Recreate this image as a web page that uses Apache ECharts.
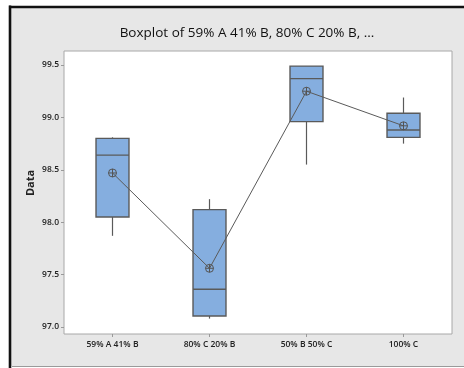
<!DOCTYPE html>
<html>
<head>
<meta charset="utf-8">
<script src="https://cdn.jsdelivr.net/npm/echarts@6/dist/echarts.min.js"></script>
<style>html,body{margin:0;padding:0;background:#fff;}#c{width:464px;height:368px;}</style>
</head>
<body>
<div id="c"></div>
<script>
const categories = ['59% A 41% B', '80% C 20% B', '50% B 50% C', '100% C'];
// [lower whisker, Q1, median, Q3, upper whisker]
const boxValues = [
  [97.87, 98.05, 98.64, 98.80, 98.81],
  [97.08, 97.105, 97.36, 98.12, 98.22],
  [98.55, 98.96, 99.37, 99.49, 99.49],
  [98.75, 98.81, 98.88, 99.04, 99.19]
];
const meanValues = [98.47, 97.56, 99.25, 98.92];
const yTicks = [97.0, 97.5, 98.0, 98.5, 99.0, 99.5];
const titleText = 'Boxplot of 59% A 41% B, 80% C 20% B, ...';
const yName = 'Data';

const FONT = 'Open Sans';
const chart = echarts.init(document.getElementById('c'), null, {renderer: 'canvas'});

const boxData = boxValues.map((v, i) => [i].concat(v));
const meanData = meanValues.map((v, i) => [i, v]);

chart.setOption({
  backgroundColor: '#ffffff',
  animation: false,
  graphic: [
    {type: 'rect', z: -10, silent: true,
     shape: {x: 10, y: 7, width: 470, height: 359},
     style: {fill: '#e7e7e7', stroke: null}},
    {type: 'line', z: -9, shape: {x1: 10, y1: 5.5, x2: 10, y2: 368}, style: {stroke: '#111', lineWidth: 2.6}},
    {type: 'line', z: -9, shape: {x1: 9, y1: 7, x2: 470, y2: 7}, style: {stroke: '#111', lineWidth: 2.6}},
    {type: 'line', z: -9, shape: {x1: 12, y1: 366.5, x2: 470, y2: 366.5}, style: {stroke: '#9a9a9a', lineWidth: 1}},
    {type: 'text', x: 247, y: 33, style: {text: titleText, fontFamily: FONT, fontSize: 13.5, fill: '#111', align: 'center', verticalAlign: 'middle'}},
    {type: 'text', x: 31, y: 183, rotation: Math.PI / 2, style: {text: yName, fontFamily: FONT, fontSize: 11, fontWeight: 'bold', fill: '#222', align: 'center', verticalAlign: 'middle'}}
  ],
  grid: {left: 64, top: 51, right: 12, bottom: 34, show: true, backgroundColor: '#fff', borderColor: '#a8a8a8', borderWidth: 1},
  xAxis: {
    type: 'category', data: categories, boundaryGap: true,
    axisLine: {show: false},
    axisTick: {show: true, alignWithLabel: true, length: 3, lineStyle: {color: '#999'}},
    axisLabel: {fontFamily: FONT, fontSize: 8.5, fontWeight: 600, color: '#222', margin: 6, interval: 0},
    splitLine: {show: false}
  },
  yAxis: {
    type: 'value', min: 96.933, max: 99.634,
    axisLine: {show: false},
    axisTick: {show: true, length: 3, lineStyle: {color: '#999'}, customValues: yTicks},
    axisLabel: {fontFamily: FONT, fontSize: 8.5, fontWeight: 600, color: '#222', margin: 5, customValues: yTicks,
      formatter: v => Number(v).toFixed(1)},
    splitLine: {show: false}
  },
  series: [
    {
      type: 'custom', z: 2,
      data: boxData,
      encode: {x: 0, y: [1, 2, 3, 4, 5]},
      renderItem: function (params, api) {
        const i = api.value(0);
        const lo = api.coord([i, api.value(1)]);
        const q1 = api.coord([i, api.value(2)]);
        const med = api.coord([i, api.value(3)]);
        const q3 = api.coord([i, api.value(4)]);
        const hi = api.coord([i, api.value(5)]);
        const bw = api.size([1, 0])[0] * 0.34;
        const cx = lo[0];
        const lineStyle = {stroke: '#5a5a5a', lineWidth: 1.2};
        return {
          type: 'group',
          children: [
            {type: 'line', shape: {x1: cx, y1: hi[1], x2: cx, y2: q3[1]}, style: lineStyle},
            {type: 'line', shape: {x1: cx, y1: q1[1], x2: cx, y2: lo[1]}, style: lineStyle},
            {type: 'rect', shape: {x: cx - bw / 2, y: q3[1], width: bw, height: q1[1] - q3[1]},
             style: {fill: '#85aedf', stroke: '#5a5a5a', lineWidth: 1.4}},
            {type: 'line', shape: {x1: cx - bw / 2, y1: med[1], x2: cx + bw / 2, y2: med[1]}, style: {stroke: '#5a5a5a', lineWidth: 1.4}}
          ]
        };
      }
    },
    {
      type: 'line', z: 3, data: meanData, symbol: 'none',
      lineStyle: {color: '#5a5a5a', width: 1}
    },
    {
      type: 'custom', z: 4, data: meanData,
      renderItem: function (params, api) {
        const p = api.coord([api.value(0), api.value(1)]);
        const r = 4;
        const st = {stroke: '#555', lineWidth: 1, fill: null};
        return {
          type: 'group',
          children: [
            {type: 'circle', shape: {cx: p[0], cy: p[1], r: r}, style: {stroke: '#555', lineWidth: 1, fill: 'rgba(0,0,0,0)'}},
            {type: 'line', shape: {x1: p[0] - r, y1: p[1], x2: p[0] + r, y2: p[1]}, style: st},
            {type: 'line', shape: {x1: p[0], y1: p[1] - r, x2: p[0], y2: p[1] + r}, style: st}
          ]
        };
      }
    }
  ]
});
</script>
</body>
</html>
